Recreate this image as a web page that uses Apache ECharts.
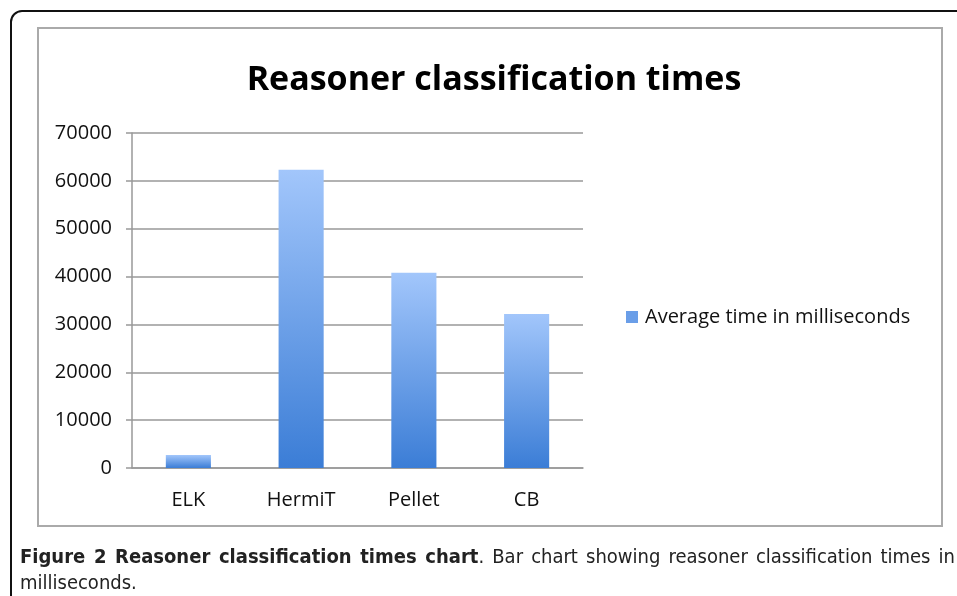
<!DOCTYPE html>
<html>
<head>
<meta charset="utf-8">
<script src="https://cdn.jsdelivr.net/npm/echarts@6/dist/echarts.min.js"></script>
<style>
  html, body { margin: 0; padding: 0; background: #fff; }
  #frame {
    position: absolute; left: 10px; top: 10px; width: 980px; height: 620px;
    border: 2px solid #111; border-radius: 12px; box-sizing: border-box;
  }
  #box {
    position: absolute; left: 37px; top: 27px; width: 906px; height: 500px;
    border: 2px solid #aaa; box-sizing: border-box;
  }
  #chart { position: absolute; left: 0; top: 0; width: 957px; height: 596px; }
  #caption {
    position: absolute; left: 20px; top: 543px; width: 935px;
    font-family: "DejaVu Sans Condensed", "Liberation Sans Narrow", sans-serif;
    font-size: 20px; line-height: 26px; color: #222; text-align: justify;
  }
</style>
</head>
<body>
<div id="frame"></div>
<div id="box"></div>
<div id="chart"></div>
<div id="caption"><b>Figure 2 Reasoner classification times chart</b>. Bar chart showing reasoner classification times in milliseconds.</div>
<script>
// values
const categories = ['ELK', 'HermiT', 'Pellet', 'CB'];
const avgTimes = [2700, 62300, 40800, 32200];
const seriesName = 'Average time in milliseconds';

const chart = echarts.init(document.getElementById('chart'), null, { renderer: 'canvas' });

const font = '"Open Sans", sans-serif';

chart.setOption({
  animation: false,
  title: {
    text: 'Reasoner classification times',
    left: 489,
    top: 58,
    textAlign: 'center',
    textStyle: { fontFamily: font, fontSize: 34, fontWeight: 'bold', color: '#000' }
  },
  legend: {
    data: [{ name: seriesName, icon: 'rect', itemStyle: { color: '#6a9ee8' } }],
    left: 626,
    top: 307,
    padding: 0,
    itemWidth: 12,
    itemHeight: 12,
    textStyle: { fontFamily: font, fontSize: 20, color: '#111', padding: [0, 0, 0, 2] }
  },
  grid: { left: 132, top: 133, width: 451, height: 335 },
  xAxis: {
    type: 'category',
    data: categories,
    axisLine: { lineStyle: { color: '#999', width: 1.5 } },
    axisTick: { length: 6, lineStyle: { color: '#999', width: 1.5 } },
    axisLabel: { fontFamily: font, fontSize: 20, color: '#111', margin: 22 }
  },
  yAxis: {
    type: 'value',
    min: 0,
    max: 70000,
    interval: 10000,
    axisLine: { show: true, lineStyle: { color: '#999', width: 1.5 } },
    axisTick: { show: true, length: 6, lineStyle: { color: '#999', width: 1.5 } },
    splitLine: { lineStyle: { color: '#999', width: 1.5 } },
    axisLabel: { fontFamily: font, fontSize: 20, color: '#111', margin: 20, formatter: v => String(v) }
  },
  series: [{
    name: seriesName,
    type: 'bar',
    data: avgTimes,
    barWidth: '40%',
    itemStyle: {
      color: new echarts.graphic.LinearGradient(0, 0, 0, 1, [
        { offset: 0, color: '#a2c6fb' },
        { offset: 1, color: '#3b7dd6' }
      ])
    }
  }]
});
</script>
</body>
</html>
